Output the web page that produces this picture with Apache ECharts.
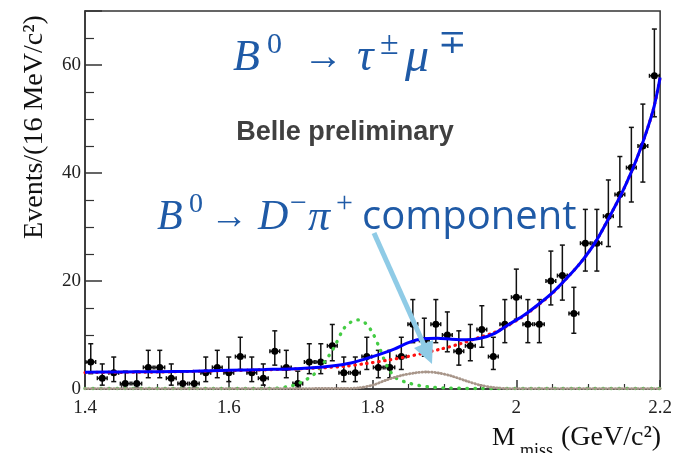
<!DOCTYPE html>
<html>
<head>
<meta charset="utf-8">
<script src="https://cdn.jsdelivr.net/npm/echarts@6/dist/echarts.min.js"></script>
<style>html,body{margin:0;padding:0;background:#fff}#c{width:675px;height:453px}</style>
</head>
<body>
<div id="c"></div>
<script>
// ---- data ----
var binCenters = [1.408,1.424,1.440,1.456,1.472,1.488,1.504,1.520,1.536,1.552,
  1.568,1.584,1.600,1.616,1.632,1.648,1.664,1.680,1.696,1.712,
  1.728,1.744,1.760,1.776,1.792,1.808,1.824,1.840,1.856,1.872,
  1.888,1.904,1.920,1.936,1.952,1.968,1.984,2.000,2.016,2.032,
  2.048,2.064,2.080,2.096,2.112,2.128,2.144,2.160,2.176,2.192];
var counts = [5,2,3,1,1,4,4,2,1,1,3,4,3,6,3,2,7,4,1,5,5,8,3,3,6,4,4,6,12,9,12,10,7,8,11,6,12,17,12,12,20,21,14,27,27,32,36,41,45,58];
var errLow = [2.84,0.71,1.37,0.17,0.17,2.09,2.09,0.71,0.17,0.17,1.37,2.09,1.37,3.62,1.37,0.71,4.42,2.09,0.17,2.84,
  2.84,5.23,1.37,1.37,3.62,2.09,2.09,3.62,8.58,6.06,8.58,6.89,4.42,5.23,7.73,3.62,8.58,12.92,8.58,8.58,
  15.57,16.46,10.32,21.84,21.84,26.38,30.03,34.63,38.32,50.41];
var errHigh = [8.38,4.64,5.92,3.30,3.30,7.16,7.16,4.64,3.30,3.30,5.92,7.16,5.92,9.58,5.92,4.64,10.77,7.16,3.30,8.38,
  8.38,11.95,5.92,5.92,9.58,7.16,7.16,9.58,16.56,13.11,16.56,14.27,10.77,11.95,15.42,9.58,16.56,22.2,16.56,16.56,
  25.54,26.65,18.83,33.26,33.26,38.71,43.05,48.45,52.76,66.66];
var binHalfWidth = 0.0068;

var totalX = [1.40,1.45,1.50,1.55,1.60,1.65,1.70,1.74,1.77,1.80,1.83,1.85,1.87,1.89,1.91,1.93,1.95,1.97,1.99,2.01,2.03,2.05,2.07,2.09,2.11,2.13,2.15,2.17,2.19,2.20];
var totalY = [3.1,3.15,3.2,3.3,3.45,3.6,3.8,4.2,4.8,6.0,7.4,8.6,9.3,9.4,9.2,9.1,9.4,10.3,12.0,13.6,15.6,17.8,20.5,23.5,27.2,32.0,37.2,43.5,51.5,57.7];

var bkgX = [1.40,1.50,1.60,1.70,1.76,1.79,1.82,1.845,1.87,1.895,1.92,1.945,1.97,1.99,2.01,2.03,2.05,2.07,2.09,2.11,2.13,2.15,2.17,2.19,2.20];
var bkgY = [3.05,3.15,3.4,3.75,4.2,4.7,5.3,5.9,6.6,7.4,8.3,9.4,10.5,11.9,13.5,15.5,17.7,20.5,23.5,27.2,32.0,37.2,43.5,51.5,57.7];

var dpiX = [1.40,1.60,1.76,1.78,1.80,1.82,1.84,1.86,1.875,1.89,1.91,1.93,1.95,1.97,1.99,2.20];
var dpiY = [0.08,0.08,0.1,0.2,0.7,1.7,2.5,3.0,3.15,3.0,2.4,1.5,0.7,0.25,0.08,0.08];

var sigX = [1.40,1.66,1.68,1.697,1.72,1.74,1.748,1.76,1.77,1.78,1.79,1.80,1.81,1.82,1.832,1.853,1.877,1.90,1.95,2.20];
var sigY = [0.08,0.08,0.4,1.0,2.9,6.3,8.1,11.2,12.4,12.8,12.2,10.4,7.5,4.3,2.1,1.0,0.4,0.2,0.08,0.08];

function zip(a, b) { return a.map(function (v, i) { return [v, b[i]]; }); }
var pts = binCenters.map(function (x, i) { return [x, counts[i], errLow[i], errHigh[i]]; });

var chart = echarts.init(document.getElementById('c'), null, {renderer: 'canvas'});
var serif = '"Liberation Serif","DejaVu Serif",serif';
var blueText = '#1f5aa6';

function dotted(color, width, dash) {
  return {color: color, width: width, type: dash, cap: 'round'};
}
function txt(x, y, text, font, extra) {
  var s = {text: text, font: font, fill: blueText, verticalAlign: 'middle'};
  if (extra) { for (var k in extra) s[k] = extra[k]; }
  return {type: 'text', z: 10, x: x, y: y, style: s};
}

var option = {
  animation: false,
  backgroundColor: '#fff',
  grid: {left: 85, right: 11, top: 11, bottom: 64, show: true, borderColor: '#333', borderWidth: 1.5, backgroundColor: 'transparent'},
  xAxis: {
    type: 'value', min: 1.4, max: 2.2, interval: 0.2,
    axisLine: {show: true, onZero: false, lineStyle: {color: '#333', width: 1.5}},
    axisTick: {show: true, inside: true, length: 9, lineStyle: {color: '#333', width: 1.5}},
    minorTick: {show: true, splitNumber: 4, length: 5, lineStyle: {color: '#333', width: 1.2}},
    splitLine: {show: false},
    axisLabel: {margin: 10, color: '#222', fontFamily: serif, fontSize: 19}
  },
  yAxis: {
    type: 'value', min: 0, max: 70, interval: 20,
    axisLine: {show: true, lineStyle: {color: '#333', width: 1.5}},
    axisTick: {show: true, inside: true, length: 17, lineStyle: {color: '#333', width: 1.5}},
    minorTick: {show: true, splitNumber: 4, length: 9, lineStyle: {color: '#333', width: 1.2}},
    splitLine: {show: false},
    axisLabel: {margin: 4, color: '#222', fontFamily: serif, fontSize: 19, showMaxLabel: false}
  },
  series: [
    {
      type: 'custom', z: 2, clip: true, silent: true,
      data: pts,
      renderItem: function (params, api) {
        var x = api.value(0), y = api.value(1), lo = api.value(2), hi = api.value(3);
        var c = api.coord([x, y]);
        var t = api.coord([x, hi]);
        var b = api.coord([x, lo]);
        var l = api.coord([x - binHalfWidth, y]);
        var r = api.coord([x + binHalfWidth, y]);
        var st = {stroke: '#111', lineWidth: 1.5};
        return {
          type: 'group',
          children: [
            {type: 'line', shape: {x1: c[0], y1: t[1], x2: c[0], y2: b[1]}, style: st},
            {type: 'line', shape: {x1: c[0] - 2.5, y1: t[1], x2: c[0] + 2.5, y2: t[1]}, style: st},
            {type: 'line', shape: {x1: c[0] - 2.5, y1: b[1], x2: c[0] + 2.5, y2: b[1]}, style: st},
            {type: 'line', shape: {x1: l[0], y1: c[1], x2: r[0], y2: c[1]}, style: st},
            {type: 'line', shape: {x1: l[0], y1: c[1] - 2, x2: l[0], y2: c[1] + 2}, style: st},
            {type: 'line', shape: {x1: r[0], y1: c[1] - 2, x2: r[0], y2: c[1] + 2}, style: st},
            {type: 'circle', shape: {cx: c[0], cy: c[1], r: 3.5}, style: {fill: '#000'}}
          ]
        };
      }
    },
    {type: 'line', z: 3, data: zip(sigX, sigY), showSymbol: false, smooth: 0.3, silent: true,
      lineStyle: dotted('#44cc44', 3.4, [0.5, 7.5])},
    {type: 'line', z: 3, data: zip(dpiX, dpiY), showSymbol: false, smooth: 0.3, silent: true,
      lineStyle: dotted('#a8968a', 2.8, [0.6, 2.6])},
    {type: 'line', z: 3, data: zip(bkgX, bkgY), showSymbol: false, smooth: 0.3, silent: true,
      lineStyle: dotted('#ff1010', 3.2, [0.5, 5.5])},
    {type: 'line', z: 4, data: zip(totalX, totalY), showSymbol: false, smooth: 0.3, silent: true,
      lineStyle: {color: '#0000ff', width: 3}}
  ],
  graphic: [
    // y axis title
    {type: 'text', z: 10, x: 35, y: 127, rotation: Math.PI / 2,
      style: {text: 'Events/(16 MeV/c²)', font: '28px ' + serif, fill: '#111', align: 'center', verticalAlign: 'middle'}},
    // x axis title
    {type: 'text', z: 10, x: 492, y: 438, style: {text: 'M', font: '26px ' + serif, fill: '#111', align: 'left', verticalAlign: 'middle'}},
    {type: 'text', z: 10, x: 520, y: 451, style: {text: 'miss', font: '18px ' + serif, fill: '#111', align: 'left', verticalAlign: 'middle'}},
    {type: 'text', z: 10, x: 561, y: 438, style: {text: '(GeV/c²)', font: '28px ' + serif, fill: '#111', align: 'left', verticalAlign: 'middle'}},
    // title line 1
    txt(233, 58, 'B', 'italic 44px ' + serif),
    txt(267, 45, '0', '30px ' + serif),
    txt(303, 58, '→', '40px ' + serif),
    txt(357, 58, 'τ', 'italic 46px ' + serif),
    txt(380, 45, '±', '34px ' + serif),
    txt(405, 58, 'μ', 'italic 48px ' + serif),
    txt(438, 44, '∓', '34px ' + serif),
    // Belle preliminary
    {type: 'text', z: 10, x: 345, y: 133, style: {text: 'Belle preliminary', font: 'bold 27px "Liberation Sans", Arial, sans-serif', fill: '#404040', align: 'center', verticalAlign: 'middle'}},
    // title line 2
    txt(157, 218, 'B', 'italic 42px ' + serif),
    txt(189, 205, '0', '28px ' + serif),
    txt(210, 218, '→', '38px ' + serif),
    txt(258, 218, 'D', 'italic 42px ' + serif),
    txt(290, 204, '−', '30px ' + serif),
    txt(308, 218, 'π', 'italic 44px ' + serif),
    txt(336, 204, '+', '30px ' + serif),
    txt(362, 218, 'component', '40px "Open Sans", sans-serif'),
    // arrow
    {type: 'line', z: 11, shape: {x1: 374, y1: 233, x2: 424, y2: 345}, style: {stroke: '#8fcbe6', lineWidth: 5}},
    {type: 'polygon', z: 11, shape: {points: [[432, 364], [414, 348], [433, 340]]}, style: {fill: '#8fcbe6'}}
  ]
};
chart.setOption(option);
</script>
</body>
</html>
